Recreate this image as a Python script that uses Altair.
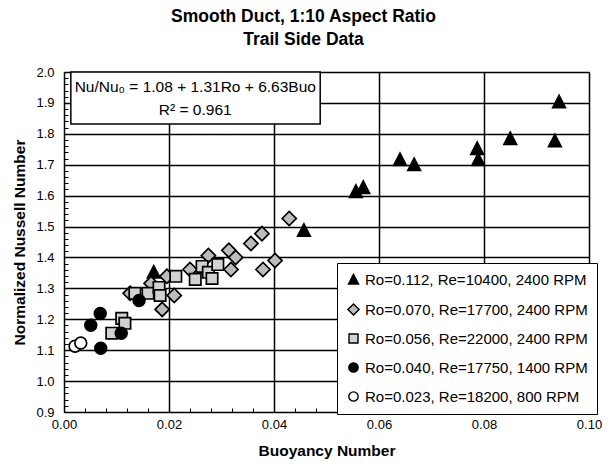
import altair as alt
import pandas as pd

# Buoyancy number (x) and normalized Nusselt number (y) for each test condition
tri_x = [0.0171, 0.0457, 0.0556, 0.0570, 0.0640, 0.0667, 0.0787, 0.0789, 0.0850, 0.0935, 0.0943]
tri_y = [1.352, 1.487, 1.613, 1.626, 1.716, 1.700, 1.752, 1.716, 1.784, 1.777, 1.903]

dia_x = [0.0126, 0.0166, 0.0187, 0.0196, 0.0210, 0.0240, 0.0275, 0.0314, 0.0318, 0.0327,
         0.0356, 0.0377, 0.0379, 0.0402, 0.0429]
dia_y = [1.284, 1.316, 1.232, 1.339, 1.277, 1.361, 1.406, 1.423, 1.361, 1.400,
         1.445, 1.477, 1.361, 1.390, 1.526]

sq_x = [0.0091, 0.0110, 0.0116, 0.0135, 0.0160, 0.0181, 0.0183, 0.0213, 0.0250, 0.0263,
        0.0275, 0.0282, 0.0293]
sq_y = [1.155, 1.203, 1.187, 1.284, 1.284, 1.303, 1.277, 1.339, 1.329, 1.371,
        1.352, 1.332, 1.377]

dot_x = [0.0051, 0.0069, 0.0070, 0.0109, 0.0143]
dot_y = [1.181, 1.219, 1.106, 1.155, 1.261]

ring_x = [0.0021, 0.0032]
ring_y = [1.113, 1.123]

series = [
    "Ro=0.112, Re=10400, 2400 RPM",
    "Ro=0.070, Re=17700, 2400 RPM",
    "Ro=0.056, Re=22000, 2400 RPM",
    "Ro=0.040, Re=17750, 1400 RPM",
    "Ro=0.023, Re=18200, 800 RPM",
]
# Symbol outlines in unit coordinates, scaled by the mark size
TRI = "M0,-1.05L1,0.9L-1,0.9Z"
DIA = "M-1.12,0L0,-1.12L1.12,0L0,1.12Z"
SQR = "M-0.9,-0.9L0.9,-0.9L0.9,0.9L-0.9,0.9Z"
CIR = "M0.93,0A0.93,0.93 0 1,1 -0.93,0A0.93,0.93 0 1,1 0.93,0Z"
shapes = [TRI, DIA, SQR, CIR, CIR]
fills = ["black", "#bcbcbc", "#d2d2d2", "black", "white"]
strokes = ["black"] * 5

x_ticks = [0.0, 0.02, 0.04, 0.06, 0.08, 0.10]
y_ticks = [0.9, 1.0, 1.1, 1.2, 1.3, 1.4, 1.5, 1.6, 1.7, 1.8, 1.9, 2.0]
x_minor = [round(i * 0.004, 3) for i in range(26)]
y_minor = [round(0.9 + i * 0.02, 2) for i in range(56)]

eq_lines = ["Nu/Nu\u2080 = 1.08 + 1.31Ro + 6.63Buo", "R\u00b2 = 0.961"]

rows = []
for name, xs, ys in zip(series, [tri_x, dia_x, sq_x, dot_x, ring_x],
                        [tri_y, dia_y, sq_y, dot_y, ring_y]):
    for xv, yv in zip(xs, ys):
        rows.append({"bo": xv, "nu": yv, "series": name})
df = pd.DataFrame(rows)

FONT = "Liberation Sans"
x_scale = alt.Scale(domain=[0, 0.10], nice=False, zero=False)
y_scale = alt.Scale(domain=[0.9, 2.0], nice=False, zero=False)

legend = alt.Legend(
    title=None, orient="none", legendX=273, legendY=191,
    fillColor="white", strokeColor="black",
    padding=9, rowPadding=13, labelFontSize=15, labelFont=FONT, labelColor="black",
    labelOffset=4, labelLimit=400, symbolSize=100, symbolStrokeWidth=1.4,
)

points = alt.Chart(df).mark_point(filled=False, strokeWidth=1.7,
                                  size=160, opacity=1).encode(
    x=alt.X("bo:Q", scale=x_scale, axis=alt.Axis(
        values=x_ticks, format=".2f", title="Buoyancy Number", grid=True,
        gridColor="black", gridWidth=1.5, ticks=False, domain=False, labelFlush=False,
        labelFont=FONT, labelFontSize=13, labelColor="black", labelPadding=6,
        titleFont=FONT, titleFontSize=15.5, titleFontWeight="bold",
        titleColor="black", titlePadding=12)),
    y=alt.Y("nu:Q", scale=y_scale, axis=alt.Axis(
        values=y_ticks, format=".1f", title="Normalized Nussell Number", grid=True,
        gridColor="black", gridWidth=1.5, ticks=False, domain=False, labelFlush=False,
        labelFont=FONT, labelFontSize=13, labelColor="black", labelPadding=10,
        titleFont=FONT, titleFontSize=15.5, titleFontWeight="bold",
        titleColor="black", titlePadding=8)),
    shape=alt.Shape("series:N", scale=alt.Scale(domain=series, range=shapes), legend=legend),
    fill=alt.Fill("series:N", scale=alt.Scale(domain=series, range=fills), legend=legend),
    stroke=alt.Stroke("series:N", scale=alt.Scale(domain=series, range=strokes), legend=legend),
)

# Minor tick marks drawn just inside the plot frame
minor = alt.Chart(df).mark_point(opacity=0).encode(
    x=alt.X("bo:Q", scale=x_scale, axis=alt.Axis(
        orient="bottom", values=x_minor, labels=False, grid=False, domain=False,
        tickSize=4, offset=-4, tickColor="black", tickWidth=1, title=None)),
    y=alt.Y("nu:Q", scale=y_scale, axis=alt.Axis(
        orient="left", values=y_minor, labels=False, grid=False, domain=False,
        tickSize=4, offset=-4, tickColor="black", tickWidth=1, title=None)),
)

# Regression equation box
eq_box = pd.DataFrame({"x0": [0.0013], "x1": [0.0488], "y0": [1.832], "y1": [2.0]})
box = alt.Chart(eq_box).mark_rect(fill="white", stroke="black", strokeWidth=1.5).encode(
    x=alt.X("x0:Q", scale=x_scale, axis=None), x2="x1:Q",
    y=alt.Y("y0:Q", scale=y_scale, axis=None), y2="y1:Q",
)
eq_df = pd.DataFrame({"x": [0.0250, 0.0250], "y": [1.952, 1.876], "t": eq_lines})
eq_text = alt.Chart(eq_df).mark_text(font=FONT, fontSize=15.5, color="black",
                                     align="center", baseline="middle").encode(
    x=alt.X("x:Q", scale=x_scale, axis=None),
    y=alt.Y("y:Q", scale=y_scale, axis=None),
    text="t:N",
)

chart = alt.layer(points, minor, box, eq_text).resolve_axis(
    x="independent", y="independent"
).properties(
    width=525, height=340,
    autosize=alt.AutoSizeParams(type="none"),
    padding={"left": 64, "top": 72, "right": 24, "bottom": 58},
    title=alt.Title(["Smooth Duct, 1:10 Aspect Ratio", "Trail Side Data"],
                    font=FONT, fontSize=17.5, fontWeight="bold", color="black",
                    anchor="middle", dx=-23, lineHeight=23, offset=18),
).configure_view(stroke="black", strokeWidth=2).configure_legend(
    strokeWidth=2.5, cornerRadius=0
).configure(background="white")

chart.save("out.html", embed_options={"renderer": "svg", "actions": False})
